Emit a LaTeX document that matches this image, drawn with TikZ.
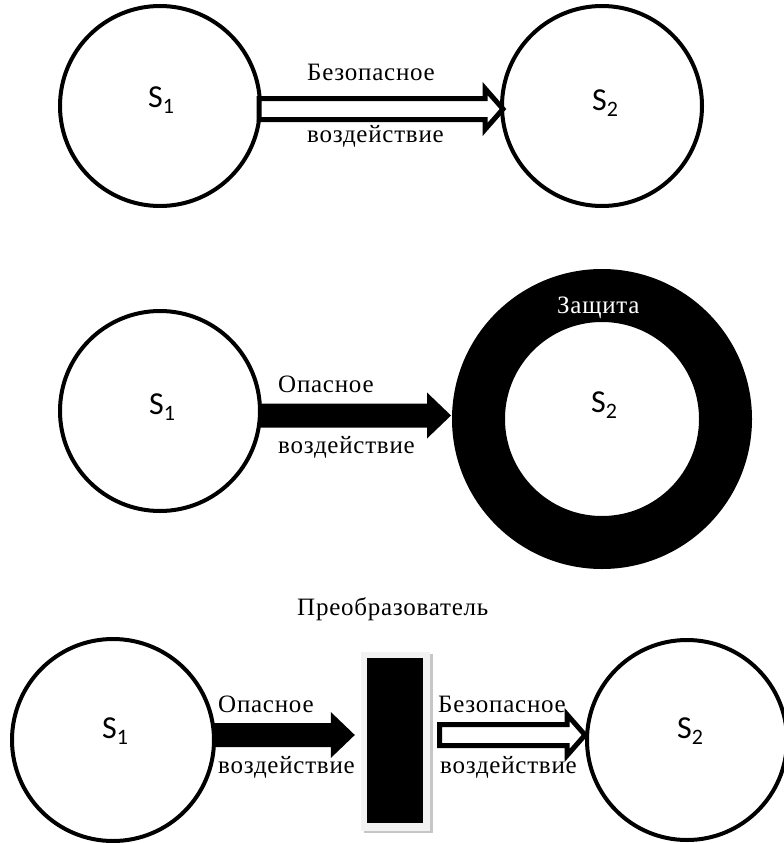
\documentclass[tikz,border=0pt]{standalone}
\usepackage{fontspec}
\newfontfamily\lblfont[LetterSpace=3]{Liberation Serif}
\newfontfamily\sysfont{Carlito}
\usetikzlibrary{calc}
\newcommand\Slab[1]{{\sysfont\fontsize{32}{32}\selectfont S\raisebox{-6pt}{\fontsize{22}{22}\selectfont #1}}}
% hollow arrow from #1 to tip #2 (same y)
\newcommand\hollowarr[2]{%
  \draw[openarr] ($(#1)+(0,-10.5)$) -- ($(#2)+(-18,-10.5)$) -- ($(#2)+(-18,-20.5)$) -- (#2)
    -- ($(#2)+(-18,20.5)$) -- ($(#2)+(-18,10.5)$) -- ($(#1)+(0,10.5)$) -- cycle;}
% solid arrow from #1 to tip #2 (same y)
\newcommand\solidarr[2]{%
  \fill[fullarr] ($(#1)+(0,-12)$) -- ($(#2)+(-24,-12)$) -- ($(#2)+(-24,-23)$) -- (#2)
    -- ($(#2)+(-24,23)$) -- ($(#2)+(-24,12)$) -- ($(#1)+(0,12)$) -- cycle;}
\begin{document}
\begin{tikzpicture}[x=1pt,y=-1pt,
  sys/.style={circle,draw,line width=4pt,minimum size=200pt,inner sep=0pt},
  slab/.style={inner sep=0pt,anchor=center},
  lbl/.style={font=\lblfont\fontsize{25}{30}\selectfont,inner sep=0pt,anchor=base west},
  openarr/.style={draw,line width=5pt,fill=white,line join=miter},
  fullarr/.style={fill=black},
  ring/.style={circle,draw,line width=53pt,minimum size=247pt,inner sep=0pt},
  convshadow/.style={rectangle,fill=gray!45,minimum width=69pt,minimum height=179pt,inner sep=0pt},
  convframe/.style={rectangle,fill=gray!10,minimum width=69pt,minimum height=179pt,inner sep=0pt},
  convbox/.style={rectangle,fill=black,minimum width=56pt,minimum height=165pt,inner sep=0pt}]
\fill[white] (0,0) rectangle (784,843);
\useasboundingbox (0,0) rectangle (784,843);
\clip (0,0) rectangle (784,843);

% ---------- top row ----------
\node[sys] (s1t) at (160,106) {};
\node[sys] (s2t) at (602,106) {};
\coordinate (a1s) at ($(s1t.east)+(-3,3)$);
\coordinate (a1t) at ($(s2t.west)+(3,3)$);
\hollowarr{a1s}{a1t}
\node[slab] (s1tl) at (161,100) {\Slab{1}};
\node[slab] (s2tl) at (605,103) {\Slab{2}};
\node[lbl] (t1a) at (307,81) {Безопасное};
\node[lbl] (t1b) at (307,142) {воздействие};

% ---------- middle row ----------
\node[sys] (s1m) at (160,411) {};
\node[ring] (prot) at (602,419) {};
\coordinate (a2s) at ($(s1m.east)+(-3,4.5)$);
\coordinate (a2t) at ($(prot.west)+(-1,-3.5)$);
\solidarr{a2s}{a2t}
\node[slab] (s1ml) at (162,407) {\Slab{1}};
\node[slab] (s2ml) at (604,405) {\Slab{2}};
\node[lbl] (t2a) at (278,392) {Опасное};
\node[lbl] (t2b) at (278,453) {воздействие};
\node[lbl,text=white] (prl) at (557,313) {Защита};

% ---------- bottom row ----------
\node[lbl] (cvl) at (297,615) {Преобразователь};
\node[sys,minimum size=202pt] (s1b) at (113,740) {};
\node[sys] (s2b) at (687,740) {};
\node[convshadow] (convs) at (398.5,743.5) {};
\node[convframe] (convf) at (395.5,741.5) {};
\node[convbox] (conv) at (395,740.5) {};
\coordinate (a3s) at ($(s1b.east)+(-3,-5)$);
\coordinate (a3t) at ($(convf.west)+(-6,-6.5)$);
\solidarr{a3s}{a3t}
\coordinate (a4s) at ($(convf.east)+(9.5,-6.5)$);
\coordinate (a4t) at ($(s2b.west)+(0,-5)$);
\hollowarr{a4s}{a4t}
\node[slab] (s1bl) at (115,731) {\Slab{1}};
\node[slab] (s2bl) at (690,731) {\Slab{2}};
\node[lbl] (t3a) at (218,712) {Опасное};
\node[lbl] (t3b) at (218,773) {воздействие};
\node[lbl] (t4a) at (438,712) {Безопасное};
\node[lbl] (t4b) at (440,773) {воздействие};
\end{tikzpicture}
\end{document}
